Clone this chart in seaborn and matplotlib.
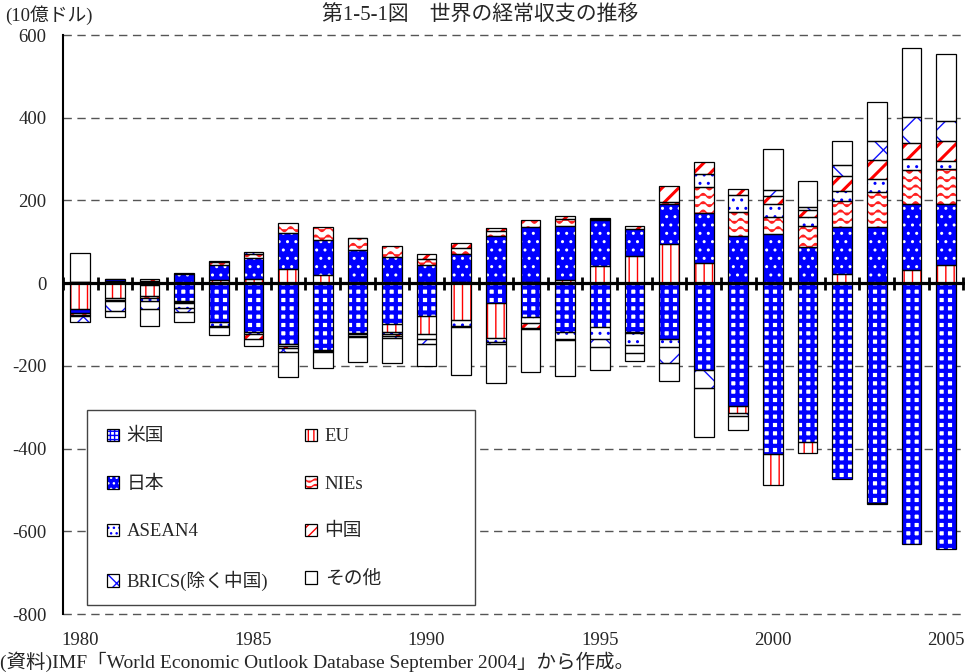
import warnings
import numpy as np
import pandas as pd
import matplotlib
matplotlib.use('Agg')
import matplotlib.pyplot as plt
import matplotlib.hatch as mhatch
from matplotlib.path import Path
from matplotlib.patches import Patch, Rectangle
import seaborn as sns

warnings.filterwarnings('ignore')

# current account balance, 10億ドル
years = list(range(1980, 2006))
us = [2, 5, -5, -42, -95, -118, -147, -161, -121, -99, -79, 3, -48, -82, -118,
      -105, -118, -136, -210, -297, -413, -385, -474, -531, -631, -642]
eu = [-62, -35, -25, -3, 8, 10, 35, 19, -3, -19, -44, -88, -85, 3, 7,
      42, 65, 94, 48, -18, -75, -26, 22, -3, 31, 44]
japan = [-10, 5, 6, 21, 37, 51, 86, 85, 80, 64, 44, 68, 114, 132, 131,
         111, 67, 97, 121, 115, 119, 87, 113, 136, 160, 147]
nies = [-5, -5, -5, -2, 6, 10, 24, 32, 29, 26, 14, 14, 13, 17, 17,
        3, -3, 6, 63, 58, 40, 51, 63, 85, 83, 85]
asean4 = [-3, -4, -8, -12, -8, -5, -4, -3, -3, -5, -12, -16, -10, -15, -18,
          -30, -28, -18, 31, 40, 32, 21, 26, 31, 27, 20]
china = [0, 1, 5, 4, 2, -11, -7, -1, -4, -4, 12, 13, 6, -12, 7,
         2, 7, 37, 29, 14, 20, 17, 35, 46, 39, 48]
brics = [-13, -23, -20, -10, -4, 4, -8, -2, 0, -6, -12, -3, -3, -3, -2,
         -20, -20, -38, -43, -6, 14, 8, 27, 46, 62, 49]
other = [70, -14, -40, -26, -19, -19, -60, -39, -59, -60, -53, -115, -95, -103, -86,
         -55, -19, -45, -120, -33, 99, 62, 57, 94, 166, 162]

series_names = ['米国', 'EU', '日本', 'NIEs', 'ASEAN4', '中国', 'BRICS(除く中国)', 'その他']
series_values = [us, eu, japan, nies, asean4, china, brics, other]

# face colour, hatch colour, hatch in bars, hatch in legend, hatch linewidth
styles = {
    '米国': ('white', '#0000ff', '++', '++++', 3.0),
    'EU': ('white', '#ff0000', '||', '|||', 1.0),
    '日本': ('#0000ff', 'white', '..', '...', 1.0),
    'NIEs': ('white', '#ff2020', '~~', '~~~', 1.0),
    'ASEAN4': ('white', '#0000ff', '..', '...', 1.0),
    '中国': ('white', '#ff0000', '//', '///', 2.2),
    'BRICS(除く中国)': ('white', '#1010ff', 'x', 'xx', 1.0),
    'その他': ('white', 'white', None, None, 1.0),
}


class WaveHatch(mhatch.HatchPatternBase):
    """wavy horizontal lines, used for the NIEs pattern ('~')"""
    def __init__(self, hatch, density):
        self.num_lines = int(hatch.count('~') * density)
        self.steps = 96
        self.num_vertices = self.num_lines * (self.steps + 1)

    def set_vertices_and_codes(self, vertices, codes):
        xs = np.linspace(0, 1, self.steps + 1)
        k = 0
        for i in range(self.num_lines):
            y0 = (i + 0.5) / self.num_lines
            ys = y0 + 0.28 / self.num_lines * np.sin(2 * np.pi * 8 * xs)
            vertices[k:k + self.steps + 1, 0] = xs
            vertices[k:k + self.steps + 1, 1] = ys
            codes[k] = Path.MOVETO
            codes[k + 1:k + self.steps + 1] = Path.LINETO
            k += self.steps + 1


mhatch._hatch_types.append(WaveHatch)

sns.set_style('white')
plt.rcParams['font.family'] = ['Liberation Serif', 'Noto Sans CJK JP']
plt.rcParams['axes.unicode_minus'] = False
plt.rcParams['hatch.linewidth'] = 1.0

fig, ax = plt.subplots(figsize=(9.67, 6.72), dpi=100)
fig.subplots_adjust(left=0.0652, right=0.998, top=0.9479, bottom=0.0863)

n = len(years)
pos_base = np.zeros(n)
neg_base = np.zeros(n)
labels = [str(y) for y in years]
bar_w = 0.57

for name, vals in zip(series_names, series_values):
    v = np.array(vals, dtype=float)
    bottom = np.where(v >= 0, pos_base, neg_base)
    df = pd.DataFrame({'year': labels, 'value': v})
    face, hc, hatch, _, hlw = styles[name]
    before = len(ax.patches)
    sns.barplot(data=df, x='year', y='value', color=face, saturation=1,
                bottom=bottom, width=bar_w, errorbar=None, ax=ax,
                edgecolor=hc, linewidth=0, hatch=hatch, zorder=2)
    for p in ax.patches[before:]:
        if hasattr(p, 'set_hatch_linewidth'):
            p.set_hatch_linewidth(hlw)
    sns.barplot(data=df, x='year', y='value', bottom=bottom, width=bar_w,
                errorbar=None, ax=ax, fill=False, color='black',
                linewidth=0.9, zorder=2.1)
    pos_base += np.clip(v, 0, None)
    neg_base += np.clip(v, None, 0)

# gridlines, zero line with category ticks
for y in [600, 400, 200, -200, -400, -600, -800]:
    ax.axhline(y, color='#555555', lw=1, ls=(0, (6, 4)), zorder=0, clip_on=False)
ax.axhline(0, color='black', lw=2.3, zorder=4)
ax.vlines(np.arange(-0.5, n, 1), -16, 16, color='black', lw=2, zorder=4)

ax.set_xlim(-0.5, n - 0.45)
ax.set_ylim(-800, 600)
ax.set_yticks(range(-800, 601, 200))
ax.set_xticks(range(0, n, 5))
ax.set_xticklabels([str(y) for y in years[::5]])
ax.set_xlabel('')
ax.set_ylabel('')
ax.tick_params(axis='y', direction='in', length=6, width=1.5, pad=12, labelsize=13.5)
ax.tick_params(axis='x', length=0, pad=13, labelsize=13.5)
for s in ['top', 'right', 'bottom']:
    ax.spines[s].set_visible(False)
ax.spines['left'].set_color('black')
ax.spines['left'].set_linewidth(1.5)

# legend (column-wise order to match the reference rows), framed by a fixed box
handles = {}
for name in series_names:
    face, hc, _, lhatch, hlw = styles[name]
    hp = Patch(facecolor=face, edgecolor=hc, hatch=lhatch, linewidth=0)
    if hasattr(hp, 'set_hatch_linewidth'):
        hp.set_hatch_linewidth(min(hlw, 1.6))
    op = Patch(facecolor='none', edgecolor='black', linewidth=0.9)
    handles[name] = (hp, op)
order = ['米国', '日本', 'ASEAN4', 'BRICS(除く中国)', 'EU', 'NIEs', '中国', 'その他']
ax.add_patch(Rectangle((0.0266, 0.0155), 0.430, 0.337, transform=ax.transAxes,
                       facecolor='white', edgecolor='#444444', lw=1.0, zorder=5))
leg = ax.legend([handles[k] for k in order], order, ncol=2, loc='upper left',
                bbox_to_anchor=(0.0488, 0.321), borderaxespad=0, borderpad=0,
                fontsize=13.5, handlelength=0.65, handleheight=0.65,
                handletextpad=0.4, labelspacing=1.62, columnspacing=1.95,
                frameon=False)
leg.set_zorder(6)

fig.text(0.005, 0.977, '(10億ドル)', fontsize=13.5, ha='left', va='center')
fig.text(0.497, 0.977, '第1-5-1図　世界の経常収支の推移', fontsize=15,
         ha='center', va='center')
fig.text(0.0, 0.0, '(資料)IMF「World Economic Outlook Database September 2004」から作成。',
         fontsize=14, ha='left', va='bottom')

fig.savefig('out.png', dpi=100)
